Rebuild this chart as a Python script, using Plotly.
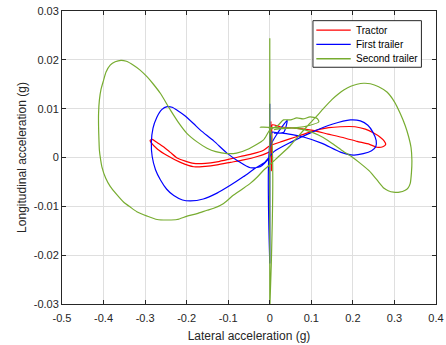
import plotly.graph_objects as go

# ---- data ----
tractor_x = [0.0, 0.003, 0.004, 0.005, 0.006, 0.025, 0.06, 0.1, 0.14, 0.18, 0.21, 0.24, 0.258, 0.272, 0.279,
             0.275, 0.265, 0.25, 0.23, 0.205, 0.17, 0.142, 0.1, 0.062, 0.03, 0.0, -0.015, -0.04, -0.071, -0.1,
             -0.127, -0.155, -0.183, -0.205, -0.223, -0.24, -0.256, -0.272, -0.283, -0.288, -0.285, -0.27,
             -0.247, -0.215, -0.183, -0.155, -0.127, -0.095, -0.063, -0.03, -0.007, 0.004]
tractor_y = [0.0, 0.0074, -0.0027, 0.0045, 0.0067, 0.0063, 0.006, 0.0056, 0.0048, 0.004, 0.0033, 0.0027, 0.0021,
             0.0022, 0.0027, 0.0034, 0.0042, 0.005, 0.0058, 0.0063, 0.0063, 0.0061, 0.0053, 0.0042, 0.0033, 0.0024,
             0.0015, 0.0008, 0.0002, -0.0004, -0.0009, -0.0012, -0.0012, -0.0007, -0.0001, 0.0011, 0.0022,
             0.0031, 0.0037, 0.0035, 0.003, 0.0017, 0.0004, -0.001, -0.0019, -0.0018, -0.0015, -0.001, -0.0005,
             0.0002, 0.0009, 0.0014]

trailer1_x = [0.0, 0.0, 0.0, 0.0, 0.018, 0.042, 0.034, 0.02, 0.006, -0.001, -0.003, -0.023, -0.047, -0.075,
              -0.103, -0.135, -0.167, -0.183, -0.205, -0.223, -0.235, -0.247, -0.26, -0.272, -0.281, -0.285,
              -0.283, -0.275, -0.263, -0.248, -0.231, -0.21, -0.191, -0.16, -0.127, -0.095, -0.063, -0.035,
              -0.011, 0.01, 0.05, 0.102, 0.15, 0.194, 0.218, 0.236, 0.248, 0.256, 0.255, 0.245, 0.225, 0.202,
              0.17, 0.126, 0.081, 0.054, 0.03, 0.01]
trailer1_y = [0.0, 0.011, -0.0217, 0.002, 0.0049, 0.0076, 0.0052, 0.005, 0.0052, 0.002, -0.0002, -0.0019,
              -0.0021, -0.0008, 0.0009, 0.0034, 0.0056, 0.0069, 0.0086, 0.0097, 0.0103, 0.0104, 0.0098, 0.0082,
              0.006, 0.003, 0.0002, -0.0025, -0.0046, -0.0065, -0.0078, -0.0087, -0.0089, -0.0085, -0.0073,
              -0.0057, -0.0039, -0.0022, -0.0009, 0.0012, 0.0031, 0.0052, 0.0068, 0.0077, 0.0075, 0.0066,
              0.0052, 0.0035, 0.0022, 0.0014, 0.0008, 0.0005, 0.0011, 0.0029, 0.0042, 0.0047, 0.005, 0.005]

trailer2_x = [0.0, 0.0, 0.0, 0.0, -0.023, 0.02, 0.065, 0.097, 0.118, 0.114, 0.097, 0.08, 0.065, 0.05, 0.033,
              0.02, 0.0, -0.015, -0.05, -0.08, -0.103, -0.13, -0.151, -0.175, -0.199, -0.22, -0.239, -0.263,
              -0.28, -0.295, -0.312, -0.328, -0.345, -0.358, -0.372, -0.384, -0.394, -0.4, -0.406, -0.41,
              -0.412, -0.412, -0.411, -0.41, -0.407, -0.404, -0.395, -0.384, -0.368, -0.352, -0.335, -0.32,
              -0.295, -0.271, -0.245, -0.223, -0.199, -0.175, -0.151, -0.135, -0.111, -0.087, -0.065, -0.047,
              -0.03, -0.015, 0.0, 0.02, 0.049, 0.07, 0.09, 0.11, 0.13, 0.15, 0.165, 0.178, 0.195, 0.21, 0.226,
              0.242, 0.262, 0.282, 0.3, 0.314, 0.326, 0.334, 0.34, 0.342, 0.341, 0.338, 0.333, 0.326, 0.312,
              0.298, 0.285, 0.275, 0.258, 0.24, 0.218, 0.198, 0.178, 0.158, 0.138, 0.117, 0.097, 0.075, 0.057,
              0.03, 0.01]
trailer2_y = [0.0, 0.0244, -0.031, 0.006, 0.0062, 0.0061, 0.0061, 0.0066, 0.0073, 0.008, 0.0083, 0.0079,
              0.0081, 0.0077, 0.0077, 0.0066, 0.0056, 0.0036, 0.0018, 0.0009, 0.0008, 0.0012, 0.0019, 0.0032,
              0.0049, 0.0072, 0.0097, 0.0131, 0.015, 0.0165, 0.0179, 0.0189, 0.0197, 0.0199, 0.0196, 0.0189,
              0.0175, 0.0158, 0.014, 0.0118, 0.009, 0.0063, 0.0035, 0.0015, -0.0005, -0.0019, -0.0042, -0.0059,
              -0.0076, -0.0091, -0.0102, -0.0111, -0.012, -0.0127, -0.0128, -0.0127, -0.012, -0.0115, -0.0108,
              -0.0104, -0.0094, -0.0077, -0.0064, -0.0053, -0.004, -0.0026, -0.0015, 0.0001, 0.0024, 0.0045,
              0.0064, 0.0082, 0.0101, 0.0119, 0.013, 0.0138, 0.0146, 0.015, 0.0152, 0.0151, 0.0145, 0.0134,
              0.0114, 0.009, 0.0065, 0.0043, 0.002, -0.0005, -0.003, -0.0053, -0.0062, -0.0067, -0.0071,
              -0.0071, -0.0068, -0.0063, -0.0046, -0.0028, -0.0012, 0.0001, 0.0012, 0.0024, 0.0036, 0.0046,
              0.0053, 0.0058, 0.006, 0.0059, 0.0057]

series_names = ["Tractor", "First trailer", "Second trailer"]
series_colors = ["#ff0000", "#0000ff", "#77ac30"]

x_tick_vals = [-0.5, -0.4, -0.3, -0.2, -0.1, 0.0, 0.1, 0.2, 0.3, 0.4]
x_tick_text = ["-0.5", "-0.4", "-0.3", "-0.2", "-0.1", "0", "0.1", "0.2", "0.3", "0.4"]
y_tick_vals = [-0.03, -0.02, -0.01, 0.0, 0.01, 0.02, 0.03]
y_tick_text = ["-0.03", "-0.02", "-0.01", "0", "0.01", "0.02", "0.03"]

FONT = "Liberation Sans, Arial, Helvetica, sans-serif"
AX = "#262626"

fig = go.Figure()
for xs, ys, name, col in [(tractor_x, tractor_y, series_names[0], series_colors[0]),
                          (trailer1_x, trailer1_y, series_names[1], series_colors[1]),
                          (trailer2_x, trailer2_y, series_names[2], series_colors[2])]:
    fig.add_trace(go.Scatter(x=xs, y=ys, mode="lines", name=name, showlegend=False,
                             line=dict(color=col, width=1.2, shape="spline", smoothing=0.6)))

axis_common = dict(showline=True, linecolor=AX, linewidth=1, mirror="ticks",
                   ticks="inside", ticklen=4, tickcolor=AX, tickwidth=1,
                   showgrid=True, gridcolor="#dfdfdf", gridwidth=1, zeroline=False,
                   tickfont=dict(family=FONT, size=11, color=AX))

fig.update_xaxes(range=[-0.5, 0.4], tickvals=x_tick_vals, ticktext=x_tick_text,
                 ticklabelstandoff=4,
                 title=dict(text="Lateral acceleration (g)", font=dict(family=FONT, size=12, color=AX),
                            standoff=8),
                 **axis_common)
fig.update_yaxes(range=[-0.03, 0.03], tickvals=y_tick_vals, ticktext=y_tick_text,
                 title=dict(text="Longitudinal acceleration (g)", font=dict(family=FONT, size=12, color=AX),
                            standoff=4),
                 **axis_common)

# legend drawn as a boxed key in the top-right corner of the axes
leg_x0, leg_x1, leg_y0, leg_y1 = 0.671, 0.961, 0.808, 0.967
row_y = [0.935, 0.886, 0.837]
fig.add_shape(type="rect", xref="paper", yref="paper", x0=leg_x0, x1=leg_x1, y0=leg_y0, y1=leg_y1,
              line=dict(color=AX, width=1), fillcolor="white", layer="above")
for i in range(3):
    fig.add_shape(type="line", xref="paper", yref="paper", x0=0.680, x1=0.772, y0=row_y[i], y1=row_y[i],
                  line=dict(color=series_colors[i], width=1.3), layer="above")
    fig.add_annotation(xref="paper", yref="paper", x=0.780, y=row_y[i], xanchor="left", yanchor="middle",
                       text=series_names[i], showarrow=False,
                       font=dict(family=FONT, size=10, color="black"))

fig.update_layout(
    width=446, height=345,
    margin=dict(l=62, r=10, t=11, b=41, autoexpand=False),
    paper_bgcolor="white", plot_bgcolor="white",
    font=dict(family=FONT, color=AX),
    showlegend=False,
)

fig.write_html("out.html", config={"displayModeBar": False},
               post_script="document.body.style.margin='0';document.body.style.overflow='hidden';")
